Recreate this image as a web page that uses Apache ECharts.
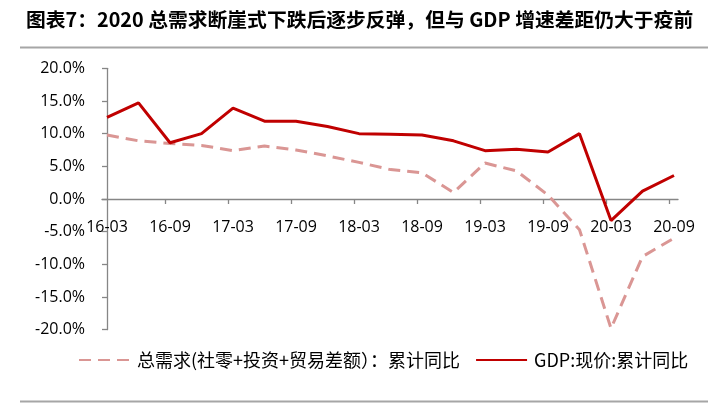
<!DOCTYPE html>
<html>
<head>
<meta charset="utf-8">
<script src="https://cdn.jsdelivr.net/npm/echarts@6/dist/echarts.min.js"></script>
<style>
  html, body { margin: 0; padding: 0; background: #fff; }
  #chart { width: 726px; height: 405px; }
</style>
</head>
<body>
<div id="chart"></div>
<script>
// quarters, 16-03 .. 20-09
const categories = ['16-03', '16-06', '16-09', '16-12', '17-03', '17-06', '17-09', '17-12',
  '18-03', '18-06', '18-09', '18-12', '19-03', '19-06', '19-09', '19-12', '20-03', '20-06', '20-09'];
// 总需求(社零+投资+贸易差额)：累计同比, %
const demand = [9.8, 8.9, 8.5, 8.2, 7.4, 8.1, 7.5, 6.6, 5.6, 4.5, 4.0, 1.0, 5.5, 4.3, 0.6, -4.7, -19.8, -8.8, -6.0];
// GDP:现价:累计同比, %
const gdp = [12.5, 14.7, 8.6, 10.0, 13.9, 11.9, 11.9, 11.1, 10.0, 9.9, 9.8, 8.9, 7.4, 7.6, 7.2, 10.0, -3.3, 1.2, 3.6];
const yTicks = [-20, -15, -10, -5, 0, 5, 10, 15, 20];

const demandName = '总需求(社零+投资+贸易差额）：累计同比';
const gdpName = 'GDP:现价:累计同比';

// label every other quarter
const labelIdx = categories.map((c, i) => i).filter(i => i % 2 === 0);
const tickIdx = labelIdx.slice(1).map(i => i - 0.15);

const gridTop = 68.3, gridBottom = 75.3;
const yMin = yTicks[0], yMax = yTicks[yTicks.length - 1];
// x axis sits on the 0% line
const zeroOffset = -(405 - gridTop - gridBottom) * (0 - yMin) / (yMax - yMin);

const chart = echarts.init(document.getElementById('chart'));
const axisFont = { fontFamily: 'Open Sans', fontSize: 16, color: '#000' };

chart.setOption({
  animation: false,
  title: {
    text: '图表7：2020 总需求断崖式下跌后逐步反弹，但与 GDP 增速差距仍大于疫前',
    left: 21, top: 5,
    textStyle: { fontFamily: 'Noto Sans CJK SC', fontSize: 19.8, fontWeight: 'bold', color: '#000' }
  },
  graphic: [
    { type: 'line', shape: { x1: 20, y1: 47.5, x2: 708, y2: 47.5 }, style: { stroke: '#A6A6A6', lineWidth: 2 } },
    { type: 'line', shape: { x1: 20, y1: 401.5, x2: 708, y2: 401.5 }, style: { stroke: '#A6A6A6', lineWidth: 2 } }
  ],
  legend: {
    left: 78, top: 351, padding: 0,
    itemWidth: 51, itemHeight: 14, itemGap: 15,
    itemStyle: { opacity: 0 },
    textStyle: { fontFamily: 'Noto Sans CJK SC', fontSize: 18, color: '#000', padding: [0, 0, 0, 2] },
    data: [demandName, gdpName]
  },
  grid: { left: 102, right: 48, top: gridTop, bottom: gridBottom },
  xAxis: {
    type: 'value',
    min: -0.159, max: 18.127,
    offset: zeroOffset,
    axisLine: { onZero: false, lineStyle: { color: '#868686', width: 1.3 } },
    axisTick: { show: true, length: 5, customValues: tickIdx, lineStyle: { color: '#868686', width: 1.3 } },
    axisLabel: {
      ...axisFont, margin: 20, customValues: labelIdx,
      formatter: v => categories[Math.round(v)]
    },
    splitLine: { show: false }
  },
  yAxis: {
    type: 'value',
    min: yMin, max: yMax, interval: 5,
    axisLine: { show: true, lineStyle: { color: '#868686', width: 1.3 } },
    axisTick: { show: true, length: 5, lineStyle: { color: '#868686', width: 1.3 } },
    axisLabel: { ...axisFont, margin: 17, formatter: v => v.toFixed(1) + '%' },
    splitLine: { show: false }
  },
  series: [
    {
      name: demandName, type: 'line', symbol: 'none',
      data: demand.map((v, i) => [i, v]),
      lineStyle: { color: '#DA9694', width: 3, type: [12, 7] },
      itemStyle: { color: '#DA9694' }
    },
    {
      name: gdpName, type: 'line', symbol: 'none',
      data: gdp.map((v, i) => [i, v]),
      lineStyle: { color: '#C00000', width: 3 },
      itemStyle: { color: '#C00000' }
    }
  ]
});
</script>
</body>
</html>
